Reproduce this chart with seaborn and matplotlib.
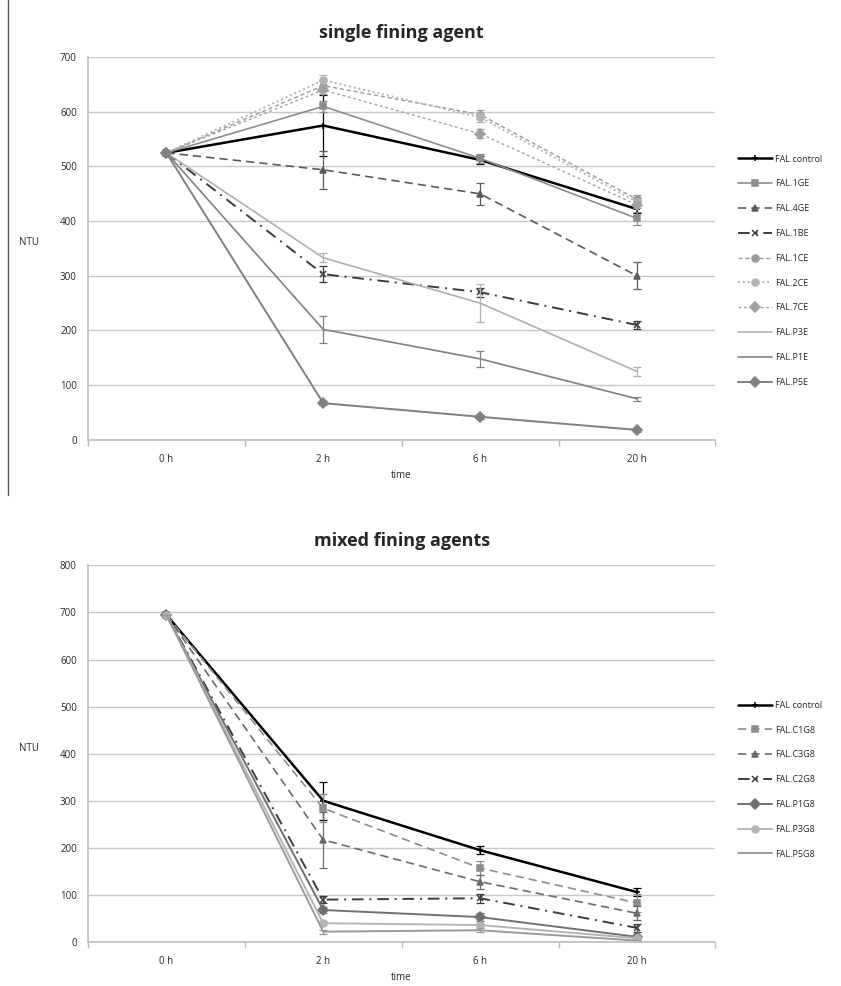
import numpy as np
import pandas as pd
import matplotlib
matplotlib.use("Agg")
import matplotlib.pyplot as plt
from matplotlib.lines import Line2D
import seaborn as sns

# data
times = ["0 h", "2 h", "6 h", "20 h"]

single_names = ["FAL control", "FAL.1GE", "FAL.4GE", "FAL.1BE", "FAL.1CE",
                "FAL.2CE", "FAL.7CE", "FAL.P3E", "FAL.P1E", "FAL.P5E"]
single_vals = [
    [525, 575, 512, 422],
    [525, 610, 515, 405],
    [525, 494, 450, 300],
    [525, 303, 270, 210],
    [525, 648, 595, 440],
    [525, 658, 590, 435],
    [525, 640, 560, 430],
    [525, 333, 250, 125],
    [525, 202, 148, 75],
    [525, 67, 42, 18],
]
single_err = [
    [0, 55, 8, 8],
    [0, 10, 8, 12],
    [0, 35, 20, 25],
    [0, 15, 8, 8],
    [0, 8, 8, 8],
    [0, 10, 8, 6],
    [0, 8, 8, 6],
    [0, 8, 35, 8],
    [0, 25, 15, 4],
    [0, 4, 4, 4],
]

mixed_names = ["FAL control", "FAL.C1G8", "FAL.C3G8", "FAL.C2G8",
               "FAL.P1G8", "FAL.P3G8", "FAL.P5G8"]
mixed_vals = [
    [695, 300, 195, 106],
    [695, 284, 157, 83],
    [695, 217, 128, 61],
    [695, 90, 93, 30],
    [695, 68, 53, 11],
    [695, 40, 36, 8],
    [695, 22, 25, 3],
]
mixed_err = [
    [0, 40, 8, 8],
    [0, 30, 15, 20],
    [0, 60, 15, 15],
    [0, 8, 10, 8],
    [0, 6, 8, 4],
    [0, 4, 4, 3],
    [0, 4, 4, 2],
]

# styles: colour, linestyle, marker, linewidth
single_sty = [
    ("#000000", "-", "+", 1.8),
    ("#8c8c8c", "-", "s", 1.2),
    ("#5a5a5a", (0, (5, 3)), "^", 1.2),
    ("#3c3c3c", (0, (6, 3, 1, 3)), "x", 1.4),
    ("#9a9a9a", (0, (3, 2)), "o", 1.0),
    ("#b4b4b4", (0, (1, 1.5)), "o", 1.4),
    ("#a0a0a0", (0, (2, 2)), "D", 1.0),
    ("#b0b0b0", "-", None, 1.2),
    ("#808080", "-", None, 1.2),
    ("#808080", "-", "D", 1.4),
]
mixed_sty = [
    ("#000000", "-", "+", 1.8),
    ("#8c8c8c", (0, (5, 3)), "s", 1.2),
    ("#6a6a6a", (0, (5, 3)), "^", 1.2),
    ("#3c3c3c", (0, (6, 3, 1, 3)), "x", 1.4),
    ("#707070", "-", "D", 1.4),
    ("#b4b4b4", "-", "o", 1.4),
    ("#9a9a9a", "-", None, 1.4),
]

sns.set_theme(style="white")
plt.rcParams["font.family"] = ["Open Sans", "DejaVu Sans"]

fig = plt.figure(figsize=(8.41, 9.86), dpi=100)
ax1 = fig.add_axes([0.1046, 0.554, 0.746, 0.388])
ax2 = fig.add_axes([0.1046, 0.0446, 0.746, 0.382])


def draw(ax, names, vals, errs, styles, ymax, title, leg_y):
    xs = np.arange(len(times))
    for name, v, e, (c, ls, mk, lw) in zip(names, vals, errs, styles):
        df = pd.DataFrame({"t": xs, "ntu": v})
        sns.lineplot(data=df, x="t", y="ntu", ax=ax, color=c, linestyle=ls,
                     marker=mk, markersize=5, linewidth=lw, label=name,
                     markeredgecolor=c, markeredgewidth=1.1)
        ax.errorbar(xs, v, yerr=e, fmt="none", ecolor=c, elinewidth=0.9,
                    capsize=3, capthick=0.9)
    ax.set_xlim(-0.5, len(times) - 0.5)
    ax.set_ylim(0, ymax)
    ax.set_yticks(np.arange(0, ymax + 1, 100))
    ax.set_xticks(xs)
    ax.set_xticklabels(times)
    ax.set_xticks(np.arange(-0.5, len(times), 1), minor=True)
    ax.tick_params(axis="x", which="major", length=0, labelsize=7, pad=10)
    ax.tick_params(axis="x", which="minor", length=4, color="#bbbbbb",
                   direction="out", bottom=True)
    ax.tick_params(axis="y", labelsize=7, length=0, pad=8)
    ax.yaxis.grid(True, color="#c8c8c8", linewidth=1.0)
    for s in ["top", "right"]:
        ax.spines[s].set_visible(False)
    for s in ["left", "bottom"]:
        ax.spines[s].set_color("#c0c0c0")
    ax.set_xlabel("time", fontsize=7)
    ax.set_ylabel("NTU", fontsize=7, rotation=0, labelpad=22)
    ax.set_title(title, fontsize=13, fontweight="bold", pad=14)
    ax.legend(loc="upper left", bbox_to_anchor=(1.03, leg_y), frameon=False,
              fontsize=6.5, handlelength=3.8, labelspacing=1.75,
              borderaxespad=0, handletextpad=0.3)


draw(ax1, single_names, single_vals, single_err, single_sty, 700,
     "single fining agent", 0.755)
draw(ax2, mixed_names, mixed_vals, mixed_err, mixed_sty, 800,
     "mixed fining agents", 0.65)

fig.add_artist(Line2D([0.0095, 0.0095], [1.0, 0.498], color="#555555",
                      linewidth=1.0, transform=fig.transFigure))

fig.savefig("out.png", dpi=100)
